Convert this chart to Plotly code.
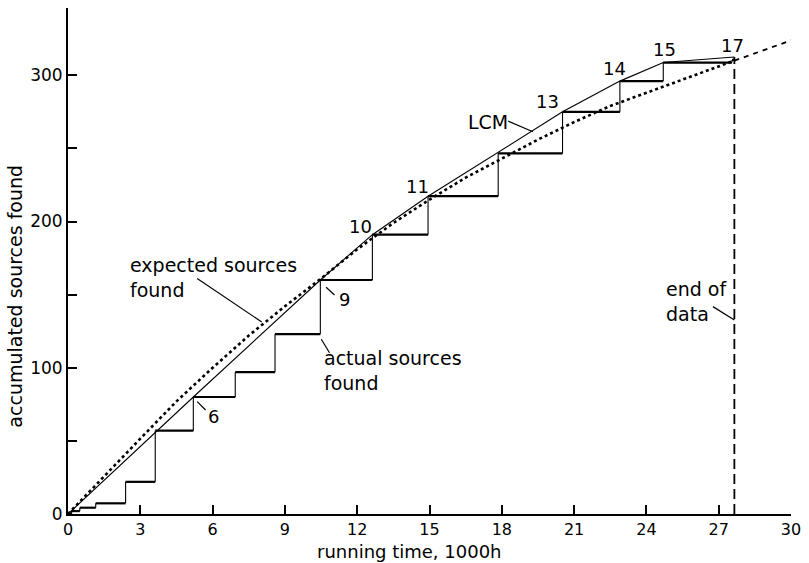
import plotly.graph_objects as go

# Failure (step) times in 1000 h and accumulated sources found after each step
step_times = [0.15, 0.49, 1.15, 2.39, 3.62, 5.2, 6.94, 8.59, 10.47, 12.63,
              14.94, 17.85, 20.52, 22.9, 24.7, 27.55, 27.65]
step_values = [2, 4.3, 7.3, 22, 57, 80, 97, 123, 160, 191,
               217.3, 246.6, 275, 296, 308.7, 310.5, 312.5]

# Least concave majorant vertices and their step numbers
lcm_times = [0, 5.2, 10.47, 12.63, 14.94, 20.52, 22.9, 24.7, 27.65]
lcm_values = [0, 80, 160, 191, 217.3, 275, 296, 308.7, 312.5]
lcm_labels = ["", "6", "9", "10", "11", "13", "14", "15", "17"]

# Expected sources found (fitted curve), observed range and extrapolation
exp_times = [0, 1.5, 3, 4.5, 6, 7.5, 9, 10.5, 12, 13.5, 15, 16.5, 18,
             19.5, 21, 22.5, 24, 25.5, 27, 27.65]
exp_values = [0, 26, 51.5, 77, 100, 122, 142, 161, 181, 199, 215, 230, 243,
              256, 268, 279, 288, 297, 306, 310]
extra_times = [27.65, 28.5, 29.3, 30.2]
extra_values = [310, 315, 320, 325]

end_of_data = 27.65

x_ticks = [0, 3, 6, 9, 12, 15, 18, 21, 24, 27, 30]
y_ticks = [0, 50, 100, 150, 200, 250, 300]
y_tick_text = ["0", "", "100", "", "200", "", "300"]

FONT = "DejaVu Sans"
INK = "black"
TXT = 19

# Build horizontal and vertical pieces of the step function
hx, hy, vx, vy = [], [], [], []
prev_t, prev_v = 0.0, 0.0
for t, v in zip(step_times, step_values):
    hx += [prev_t, t, None]
    hy += [prev_v, prev_v, None]
    vx += [t, t, None]
    vy += [prev_v, v, None]
    prev_t, prev_v = t, v

fig = go.Figure()
fig.add_trace(go.Scatter(x=hx, y=hy, mode="lines",
                         line=dict(color=INK, width=2.2), hoverinfo="skip"))
fig.add_trace(go.Scatter(x=vx, y=vy, mode="lines",
                         line=dict(color=INK, width=1.1), hoverinfo="skip"))
fig.add_trace(go.Scatter(x=lcm_times, y=lcm_values, mode="lines",
                         line=dict(color=INK, width=1.1)))
fig.add_trace(go.Scatter(x=exp_times, y=exp_values, mode="lines",
                         line=dict(color=INK, width=2.6, dash="dot")))
fig.add_trace(go.Scatter(x=extra_times, y=extra_values, mode="lines",
                         line=dict(color=INK, width=1.8, dash="5px,5px")))
fig.add_trace(go.Scatter(x=[end_of_data, end_of_data], y=[0, step_values[-1]],
                         mode="lines",
                         line=dict(color=INK, width=1.8, dash="10px,5px")))

annotations = []
# step-number labels at the majorant vertices
label_pos = {
    "6": (6.05, 66.5), "9": (11.47, 146.8), "10": (12.15, 196.9),
    "11": (14.49, 223.8), "13": (19.9, 281.9), "14": (22.69, 304.8),
    "15": (24.74, 317.3), "17": (27.58, 320.7),
}
for lab in lcm_labels:
    if lab:
        x, y = label_pos[lab]
        annotations.append(dict(x=x, y=y, text=lab, showarrow=False,
                                xanchor="center", yanchor="middle",
                                font=dict(size=18, color=INK, family=FONT)))

texts = [
    ("expected sources<br>found", 2.51, 161.5, "left"),
    ("actual sources<br>found", 10.55, 97.8, "left"),
    ("LCM", 17.44, 268.3, "center"),
    ("end of<br>data", 24.75, 145.6, "left"),
]
for txt, x, y, anchor in texts:
    annotations.append(dict(x=x, y=y, text=txt, showarrow=False, align="left",
                            xanchor=anchor, yanchor="middle",
                            font=dict(size=TXT, color=INK, family=FONT)))

annotations.append(dict(xref="paper", yref="paper", x=0.473, y=-0.074,
                        xanchor="center", yanchor="middle",
                        text="running time, 1000h", showarrow=False,
                        font=dict(size=18, color=INK, family=FONT)))
annotations.append(dict(xref="paper", yref="paper", x=-0.073, y=0.43,
                        xanchor="center", yanchor="middle",
                        text="accumulated sources found", showarrow=False,
                        textangle=-90,
                        font=dict(size=TXT, color=INK, family=FONT)))

leaders = [
    ((5.36, 161.0), (8.04, 131.3)),
    ((10.51, 119.5), (10.85, 110.3)),
    ((5.36, 76.8), (5.71, 71.1)),
    ((10.71, 155.0), (11.06, 149.8)),
    ((18.26, 268.7), (19.29, 261.4)),
    ((26.76, 141.8), (27.65, 132.7)),
]
shapes = [dict(type="line", x0=a[0], y0=a[1], x1=b[0], y1=b[1],
               line=dict(color=INK, width=1.2)) for a, b in leaders]

fig.update_layout(
    width=809, height=563,
    margin=dict(l=68, r=12, t=8, b=49),
    paper_bgcolor="white", plot_bgcolor="white",
    showlegend=False,
    annotations=annotations,
    shapes=shapes,
    font=dict(family=FONT, size=17, color=INK),
)
fig.update_xaxes(range=[0, 30], tickvals=x_ticks, ticks="inside", ticklen=9,
                 tickwidth=1.5, tickcolor=INK, showline=True, linecolor=INK,
                 linewidth=2, showgrid=False, zeroline=False,
                 tickfont=dict(size=16, family=FONT, color=INK))
fig.update_yaxes(range=[0, 346], tickvals=y_ticks, ticktext=y_tick_text,
                 ticks="inside", ticklen=9, tickwidth=1.5, tickcolor=INK,
                 showline=True, linecolor=INK, linewidth=2, showgrid=False,
                 zeroline=False, tickfont=dict(size=17, family=FONT, color=INK))

fig.write_html("out.html")
